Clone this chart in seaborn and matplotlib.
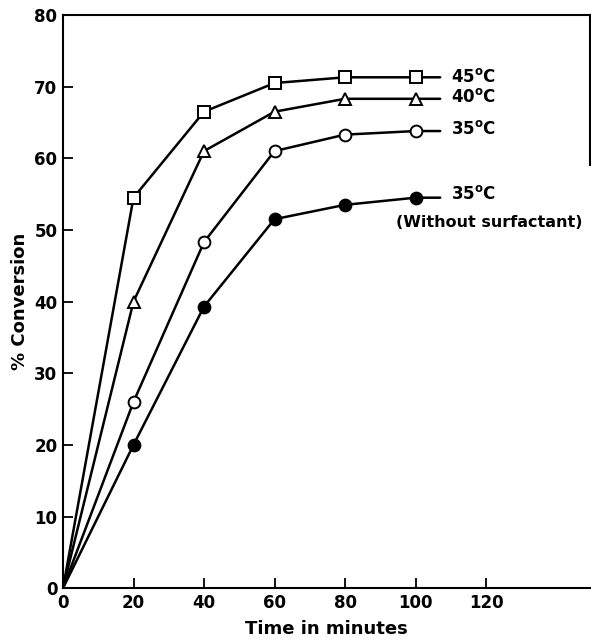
import pandas as pd
import seaborn as sns
import matplotlib.pyplot as plt

time_min = [0, 20, 40, 60, 80, 100]
conv_45 = [0, 54.5, 66.5, 70.5, 71.3, 71.3]
conv_40 = [0, 40.0, 61.0, 66.5, 68.3, 68.3]
conv_35 = [0, 26.0, 48.3, 61.0, 63.3, 63.8]
conv_35_nosurf = [0, 20.0, 39.3, 51.5, 53.5, 54.5]
# where each drawn curve stops past the last point
tail_x = 107

series = [
    ("45°C", conv_45, "s", "white"),
    ("40°C", conv_40, "^", "white"),
    ("35°C", conv_35, "o", "white"),
    ("35°C nosurf", conv_35_nosurf, "o", "black"),
]

sns.set_theme(style="white")
plt.rcParams['font.family'] = ['DejaVu Sans']
plt.rcParams['text.color'] = 'black'
plt.rcParams['axes.labelcolor'] = 'black'
plt.rcParams['xtick.color'] = 'black'
plt.rcParams['ytick.color'] = 'black'

fig = plt.figure(figsize=(5.91, 6.40), dpi=100)
ax = fig.add_axes([0.1066, 0.081, 0.8917, 0.8956])

for name, vals, mk, fc in series:
    df = pd.DataFrame({"t": time_min + [tail_x], "c": vals + [vals[-1]]})
    sns.lineplot(data=df, x="t", y="c", ax=ax, color="black", lw=1.8)
    pts = df.iloc[1:-1]
    ax.plot(pts["t"], pts["c"], ls="none", marker=mk, ms=8.5 if mk != "s" else 8,
            mfc=fc, mec="black", mew=1.4, zorder=3)

lab = dict(fontsize=12, fontweight="bold", va="center")
ax.text(110, conv_45[-1], "45$^\\mathbf{o}$C", **lab)
ax.text(110, conv_40[-1] + 0.3, "40$^\\mathbf{o}$C", **lab)
ax.text(110, conv_35[-1] + 0.3, "35$^\\mathbf{o}$C", **lab)
ax.text(110, conv_35_nosurf[-1] + 0.5, "35$^\\mathbf{o}$C", **lab)
ax.text(94.5, 51.0, "(Without surfactant)", fontsize=11.5,
        fontweight="bold", va="center", clip_on=False)

ax.set_xlim(0, 149.5)
ax.set_ylim(0, 80)
ax.set_xticks([0, 20, 40, 60, 80, 100, 120])
ax.set_yticks(range(0, 81, 10))
ax.tick_params(direction="in", length=7, width=1.3, labelsize=12, pad=4,
               bottom=True, left=True)
for t in ax.get_xticklabels() + ax.get_yticklabels():
    t.set_fontweight("bold")
for s in ax.spines.values():
    s.set_color("black")
    s.set_linewidth(1.5)
ax.spines["right"].set_bounds(59, 80)
ax.set_xlabel("Time in minutes", fontsize=13, fontweight="bold", labelpad=6)
ax.set_ylabel("% Conversion", fontsize=13, fontweight="bold", labelpad=4)

fig.savefig("out.png", dpi=100)
